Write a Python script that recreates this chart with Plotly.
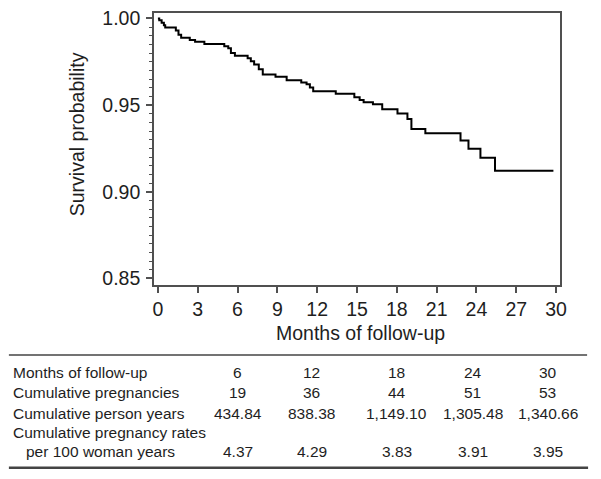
import plotly.graph_objects as go

# Kaplan-Meier step curve (months, survival probability after each drop)
months = [0, 0.10, 0.28, 0.45, 0.55, 1.35, 1.55, 1.75, 2.4, 2.8, 3.5, 5.0, 5.3, 5.5, 5.8,
          6.76, 7.0, 7.25, 7.6, 7.9, 8.86, 9.7, 10.8, 11.2, 11.45, 11.7, 13.4, 14.8,
          15.2, 15.5, 16.2, 16.9, 18.05, 18.8, 19.1, 20.15, 22.8, 23.4, 24.3, 25.4, 29.8]
survival = [1.000, 0.9989, 0.9975, 0.9960, 0.9947, 0.9930, 0.9905, 0.9889, 0.9875, 0.9866,
            0.9853, 0.9840, 0.9828, 0.9800, 0.9785, 0.9770, 0.9753, 0.9734, 0.9706, 0.9677,
            0.9664, 0.9643, 0.9630, 0.9620, 0.9602, 0.9580, 0.9566, 0.9545, 0.9530, 0.9517,
            0.9505, 0.9476, 0.9451, 0.9420, 0.9362, 0.9338, 0.9296, 0.9248, 0.9196, 0.9121,
            0.9121]

x_ticks = list(range(0, 31, 3))
y_ticks = [0.85, 0.90, 0.95, 1.00]

table_labels = ["Months of follow-up", "Cumulative pregnancies", "Cumulative person years",
                "Cumulative pregnancy rates"]
table_label_cont = "per 100 woman years"
table_months = ["6", "12", "18", "24", "30"]
table_pregnancies = ["19", "36", "44", "51", "53"]
table_person_years = ["434.84", "838.38", "1,149.10", "1,305.48", "1,340.66"]
table_rates = ["4.37", "4.29", "3.83", "3.91", "3.95"]

W, H = 601, 479
FONT = "Liberation Sans, Arial, Helvetica, sans-serif"
TXT = "#1e1e1e"
AX = "#505050"

def px(x):
    return x / W

def py(y):
    return 1 - y / H

fig = go.Figure()
fig.add_trace(go.Scatter(x=months, y=survival, mode="lines", line_shape="hv",
                         line=dict(color="black", width=2), showlegend=False,
                         hoverinfo="skip"))

fig.update_layout(
    width=W, height=H, autosize=False,
    margin=dict(l=0, r=0, t=0, b=0),
    paper_bgcolor="white", plot_bgcolor="white",
    font=dict(family=FONT, color=TXT, size=19),
    xaxis=dict(domain=[px(155), px(567)], range=[-0.3, 30.33],
               tickvals=x_ticks, ticktext=[str(v) for v in x_ticks],
               ticks="outside", ticklen=6, tickwidth=1.5, tickcolor=AX,
               showline=True, linecolor=AX, linewidth=1.5, mirror=True,
               showgrid=False, zeroline=False, ticklabelstandoff=0,
               tickfont=dict(size=19.5, family=FONT, color=TXT)),
    yaxis=dict(domain=[py(285), py(7)], range=[0.8462, 1.0032],
               tickvals=y_ticks, ticktext=["%.2f" % v for v in y_ticks],
               ticks="outside", ticklen=6, tickwidth=1.5, tickcolor=AX,
               minor=dict(dtick=0.005, tick0=0.85, ticks="outside", ticklen=3,
                          tickcolor=AX, tickwidth=1),
               showline=True, linecolor=AX, linewidth=1.5, mirror=True,
               showgrid=False, zeroline=False, ticklabelstandoff=2,
               tickfont=dict(size=19.5, family=FONT, color=TXT)),
)

ann = []
ann.append(dict(x=px(364), y=py(334), xref="paper", yref="paper", text="Months of follow-up",
                showarrow=False, font=dict(size=19.5, family=FONT, color=TXT),
                xanchor="center", yanchor="middle"))
ann.append(dict(x=px(77), y=py(131), xref="paper", yref="paper", text="Survival probability",
                showarrow=False, textangle=-90, font=dict(size=19.5, family=FONT, color=TXT),
                xanchor="center", yanchor="middle"))

row_y = [374, 395, 416, 436]
col_x = [240, 315, 401, 478, 554]
TF = dict(size=15.5, family=FONT, color=TXT)
for lab, yy in zip(table_labels, row_y):
    ann.append(dict(x=px(10), y=py(yy), xref="paper", yref="paper", text=lab,
                    showarrow=False, font=TF, xanchor="left", yanchor="middle"))
ann.append(dict(x=px(23), y=py(455), xref="paper", yref="paper", text=table_label_cont,
                showarrow=False, font=TF, xanchor="left", yanchor="middle"))
for vals, yy in zip([table_months, table_pregnancies, table_person_years, table_rates],
                    [374, 395, 416, 455]):
    for v, xx in zip(vals, col_x):
        ann.append(dict(x=px(xx), y=py(yy), xref="paper", yref="paper", text=v,
                        showarrow=False, font=TF, xanchor="center", yanchor="middle"))
fig.update_layout(annotations=ann)

fig.add_shape(type="line", xref="paper", yref="paper", x0=px(8), x1=px(594),
              y0=py(356.5), y1=py(356.5), line=dict(color="#444444", width=1.5))
fig.add_shape(type="line", xref="paper", yref="paper", x0=px(8), x1=px(595),
              y0=py(471.5), y1=py(471.5), line=dict(color="#444444", width=2.5))

fig.write_html("out.html", config=dict(displayModeBar=False),
               post_script="document.body.style.margin='0px';document.body.style.overflow='hidden';")
